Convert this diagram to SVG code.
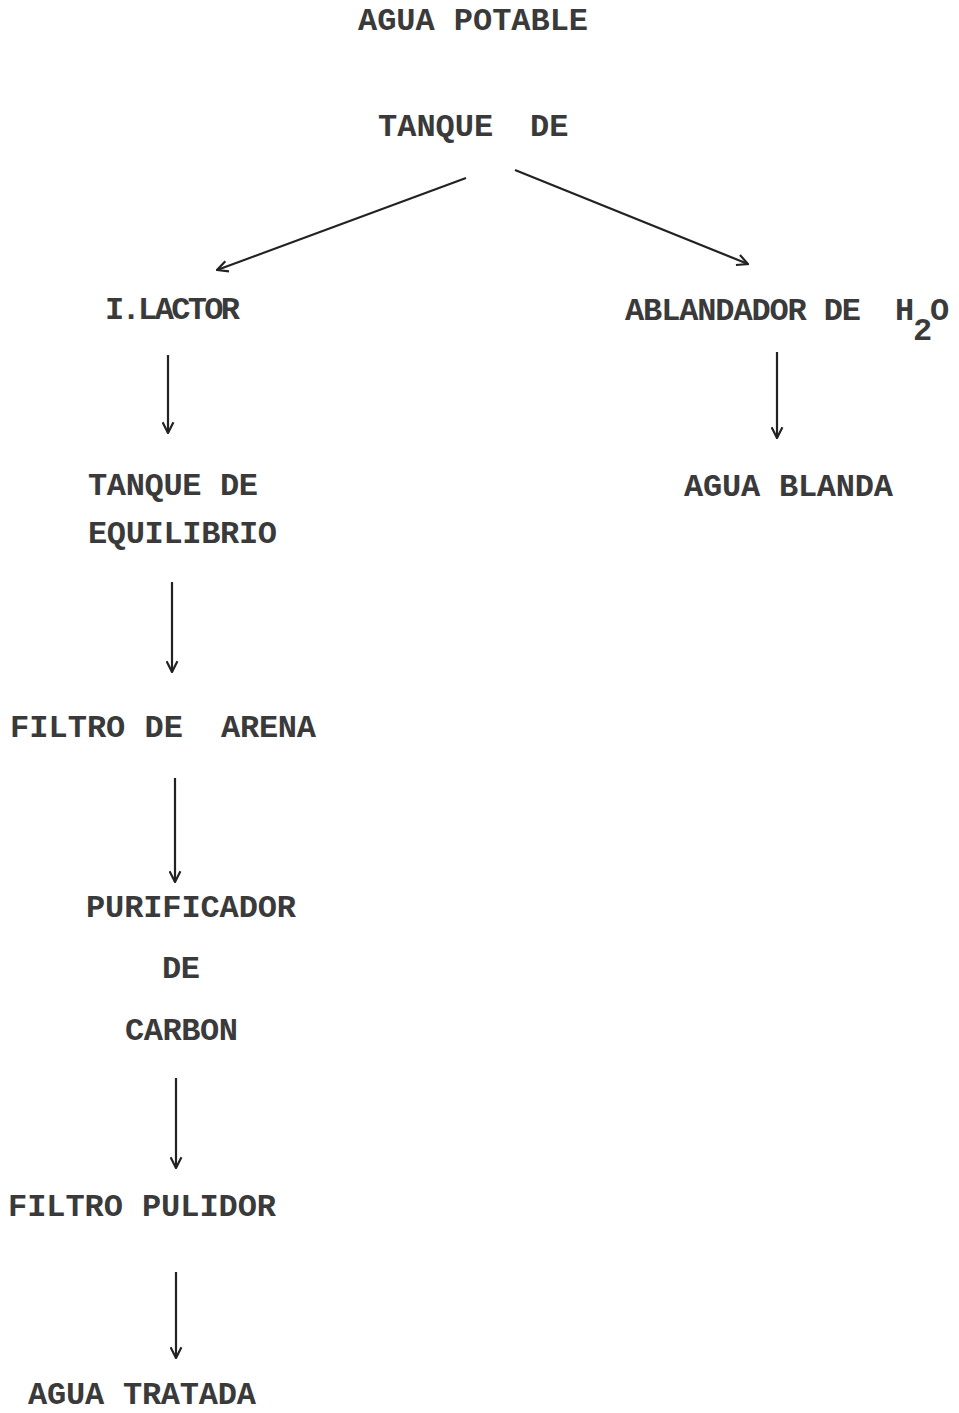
<svg xmlns="http://www.w3.org/2000/svg" width="959" height="1413" viewBox="0 0 959 1413">
<style>
text{font-family:"Liberation Mono","Courier New",monospace;font-size:32px;font-weight:bold;fill:#3a3a3a;}
.c{stroke:#222;stroke-width:2.2;fill:none;}
</style>
<defs>
<marker id="ah" viewBox="0 0 12 12" refX="11" refY="6" markerWidth="13" markerHeight="13" markerUnits="userSpaceOnUse" orient="auto">
<path d="M1,1 L11,6 L1,11" stroke="#222" stroke-width="2" fill="none"/>
</marker>
</defs>
<rect width="959" height="1413" fill="#fff"/>
<g id="n-agua-potable"><text x="358" y="30" textLength="230" lengthAdjust="spacing">AGUA POTABLE</text></g>
<g id="n-tanque"><text x="378" y="136">TANQUE</text><text x="530" y="136">DE</text></g>
<g id="n-reactor"><text x="105" y="319" textLength="135" lengthAdjust="spacing">I.LACTOR</text></g>
<g id="n-ablandador"><text x="625" y="320" textLength="236" lengthAdjust="spacing">ABLANDADOR DE</text><text x="895" y="320">H</text><text x="913" y="340" font-size="24">2</text><text x="930" y="320">O</text></g>
<g id="n-tanque-equilibrio"><text x="88" y="495" textLength="170" lengthAdjust="spacing">TANQUE DE</text><text x="88" y="543" textLength="189" lengthAdjust="spacing">EQUILIBRIO</text></g>
<g id="n-agua-blanda"><text x="684" y="496" textLength="209" lengthAdjust="spacing">AGUA BLANDA</text></g>
<g id="n-filtro-arena"><text x="10" y="737" textLength="173" lengthAdjust="spacing">FILTRO DE</text><text x="221" y="737" textLength="95" lengthAdjust="spacing">ARENA</text></g>
<g id="n-purificador"><text x="86" y="917" textLength="210" lengthAdjust="spacing">PURIFICADOR</text><text x="162" y="978" textLength="38" lengthAdjust="spacing">DE</text><text x="125" y="1040" textLength="113" lengthAdjust="spacing">CARBON</text></g>
<g id="n-filtro-pulidor"><text x="8" y="1216" textLength="268" lengthAdjust="spacing">FILTRO PULIDOR</text></g>
<g id="n-agua-tratada"><text x="28" y="1404" textLength="228" lengthAdjust="spacing">AGUA TRATADA</text></g>
<g id="connectors">
<line class="c" x1="466" y1="178" x2="217" y2="270" marker-end="url(#ah)"/>
<line class="c" x1="515" y1="170" x2="748" y2="264" marker-end="url(#ah)"/>
<line class="c" x1="168" y1="355" x2="168" y2="433" marker-end="url(#ah)"/>
<line class="c" x1="777" y1="352" x2="777" y2="438" marker-end="url(#ah)"/>
<line class="c" x1="172" y1="582" x2="172" y2="672" marker-end="url(#ah)"/>
<line class="c" x1="175" y1="778" x2="175" y2="882" marker-end="url(#ah)"/>
<line class="c" x1="176" y1="1078" x2="176" y2="1168" marker-end="url(#ah)"/>
<line class="c" x1="176" y1="1272" x2="176" y2="1358" marker-end="url(#ah)"/>
</g>
</svg>
